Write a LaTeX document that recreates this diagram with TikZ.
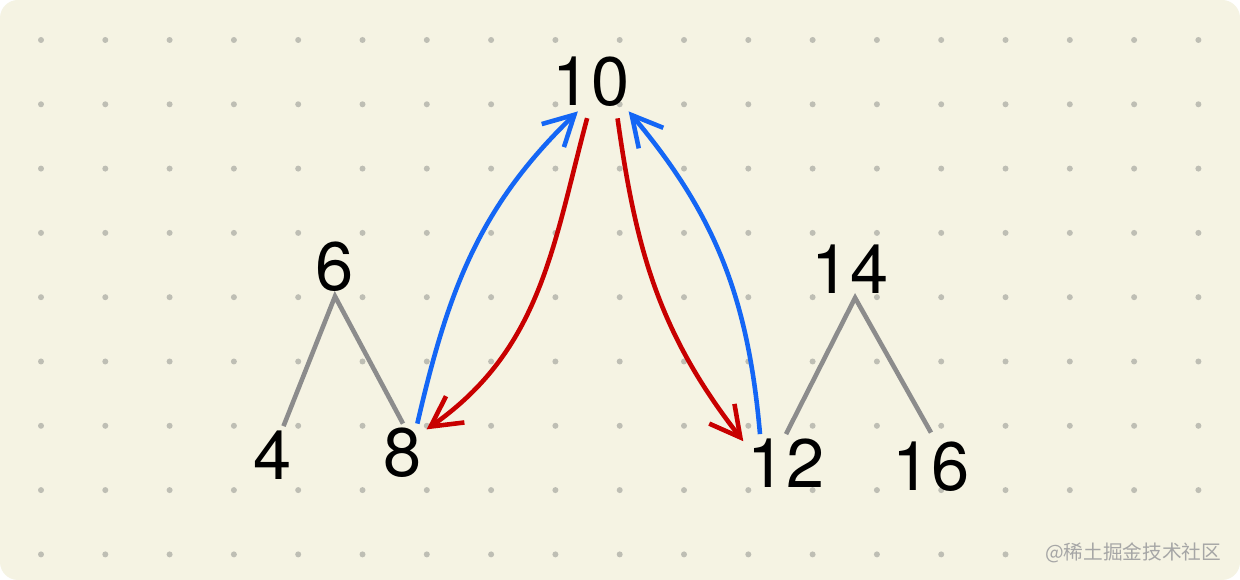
\documentclass[tikz,border=0pt]{standalone}
\usepackage{fontspec}
\setmainfont{TeX Gyre Heros}
\newfontfamily\cjkfont{Noto Sans CJK SC}
\usepackage{tikz}
\usetikzlibrary{arrows.meta}
\definecolor{paper}{RGB}{245,243,227}
\definecolor{griddot}{RGB}{190,190,180}
\definecolor{edgegray}{RGB}{140,140,140}
\definecolor{upblue}{RGB}{20,102,245}
\definecolor{downred}{RGB}{200,0,0}
\tikzset{font=\fontsize{19.5}{23}\selectfont}
\tikzset{num/.style={inner sep=1.1pt}}
\tikzset{edge/.style={draw=edgegray,line width=1.3pt}}
\tikzset{hop/.style={line width=1.3pt,-{Straight Barb[length=3mm,width=3.2mm]}}}

\begin{document}
\begin{tikzpicture}[x=0.01cm,y=-0.01cm]
  % paper and dot grid
  \useasboundingbox (0,0) rectangle (1240,580);
  \fill[white] (0,0) rectangle (1240,580);
  \fill[paper, rounded corners=0.18cm] (0,0) rectangle (1240,580);
  \foreach \i in {0,...,18}
    \foreach \j in {0,...,8}
      {\pgfmathsetmacro{\dx}{41+64.3*\i}
       \pgfmathsetmacro{\dy}{40+64.3*\j}
       \ifnum\j=8 \ifnum\i>15 \else
         \fill[griddot] (\dx,\dy) circle (3);
       \fi\else
         \fill[griddot] (\dx,\dy) circle (3);
       \fi}

  \node[num] (n10) at (591,82) {10};
  \node[num] (n6) at (335,267) {6};
  \node[num] (n4) at (273,455) {4};
  \node[num] (n8) at (403,453) {8};
  \node[num] (n14) at (850,269) {14};
  \node[num] (n12) at (786,463) {12};
  \node[num] (n16) at (931,467) {16};

  % tree edges
  \draw[edge] (n4.70) -- (n6.south) -- (n8.north);
  \draw[edge] (n12.north) -- (n14.-80) -- ([yshift=0.05cm]n16.north);

  % up and down
  \draw[hop,upblue] (n8.64) to[out=77,in=-136] (n10.-114);
  \draw[hop,downred,shorten <=0.07cm] (n10.-94) to[out=-105,in=35] (n8.45);
  \draw[hop,downred,shorten <=0.07cm] (n10.-49) to[out=-82,in=128] (n12.153);
  \draw[hop,upblue] (n12.132) to[out=95,in=-50] (n10.-38);

  \node[anchor=east,inner sep=0pt,text=black!35,font=\cjkfont\fontsize{5.6}{6.5}\selectfont]
    (mark) at (1222,553) {@稀土掘金技术社区};
\end{tikzpicture}
\end{document}
